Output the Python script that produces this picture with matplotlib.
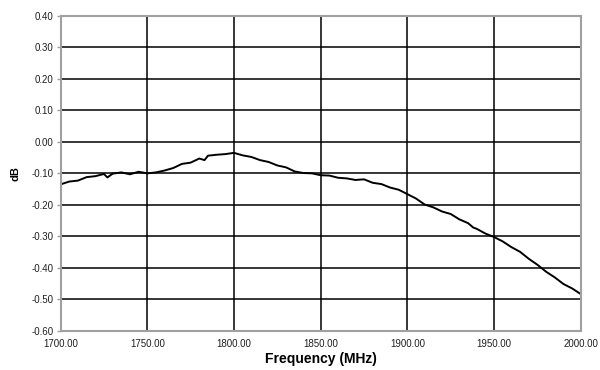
import matplotlib
matplotlib.use("Agg")
import matplotlib.pyplot as plt

freq = [1700, 1705, 1710, 1715, 1720, 1725, 1727, 1730, 1735, 1740,
        1745, 1750, 1755, 1760, 1765, 1770, 1775, 1780, 1783, 1785,
        1790, 1795, 1800, 1805, 1810, 1815, 1820, 1825, 1830, 1835,
        1840, 1845, 1850, 1855, 1860, 1865, 1870, 1875, 1880, 1885,
        1890, 1895, 1900, 1905, 1910, 1915, 1920, 1925, 1930, 1935,
        1938, 1940, 1945, 1950, 1955, 1960, 1965, 1970, 1975, 1980,
        1985, 1990, 1995, 2000]
gain_db = [-0.135, -0.126, -0.123, -0.112, -0.109, -0.102, -0.113, -0.101, -0.097, -0.103,
           -0.095, -0.100, -0.097, -0.091, -0.083, -0.070, -0.066, -0.053, -0.058, -0.044,
           -0.041, -0.039, -0.035, -0.043, -0.048, -0.058, -0.064, -0.075, -0.081, -0.094,
           -0.099, -0.100, -0.106, -0.107, -0.114, -0.116, -0.121, -0.119, -0.130, -0.134,
           -0.145, -0.152, -0.166, -0.180, -0.199, -0.208, -0.221, -0.229, -0.246, -0.258,
           -0.272, -0.276, -0.291, -0.302, -0.316, -0.334, -0.349, -0.371, -0.390, -0.412,
           -0.430, -0.451, -0.465, -0.483]

x_ticks = [1700, 1750, 1800, 1850, 1900, 1950, 2000]
y_ticks = [0.40, 0.30, 0.20, 0.10, 0.00, -0.10, -0.20, -0.30, -0.40, -0.50, -0.60]

fig = plt.figure(figsize=(6, 3.7), dpi=100)
ax = fig.add_axes([0.101, 0.1054, 0.867, 0.8522])

ax.plot(freq, gain_db, color="black", linewidth=1.4)

ax.set_xlim(1700, 2000)
ax.set_ylim(-0.60, 0.40)
ax.set_xticks(x_ticks)
ax.set_yticks(y_ticks)
ax.set_xticklabels([f"{v:.2f}" for v in x_ticks])
ax.set_yticklabels([f"{v:.2f}" for v in y_ticks])

ax.grid(True, color="black", linewidth=1.1)
ax.set_axisbelow(True)
for s in ax.spines.values():
    s.set_color("#a0a0a0")
    s.set_linewidth(1.5)

ax.tick_params(axis="y", length=3, width=1, color="#a0a0a0", pad=2,
               labelsize=7, labelcolor="#202020")
ax.tick_params(axis="x", length=0, pad=6, labelsize=7, labelcolor="#202020")
for lab in ax.get_xticklabels() + ax.get_yticklabels():
    lab.set_family("Liberation Sans")

ax.set_xlabel("Frequency (MHz)", fontsize=10, fontweight="bold",
              family="Liberation Sans", labelpad=2)
ax.set_ylabel("dB", fontsize=8, fontweight="bold",
              family="Liberation Sans", labelpad=8)

fig.savefig("out.png", dpi=100)
